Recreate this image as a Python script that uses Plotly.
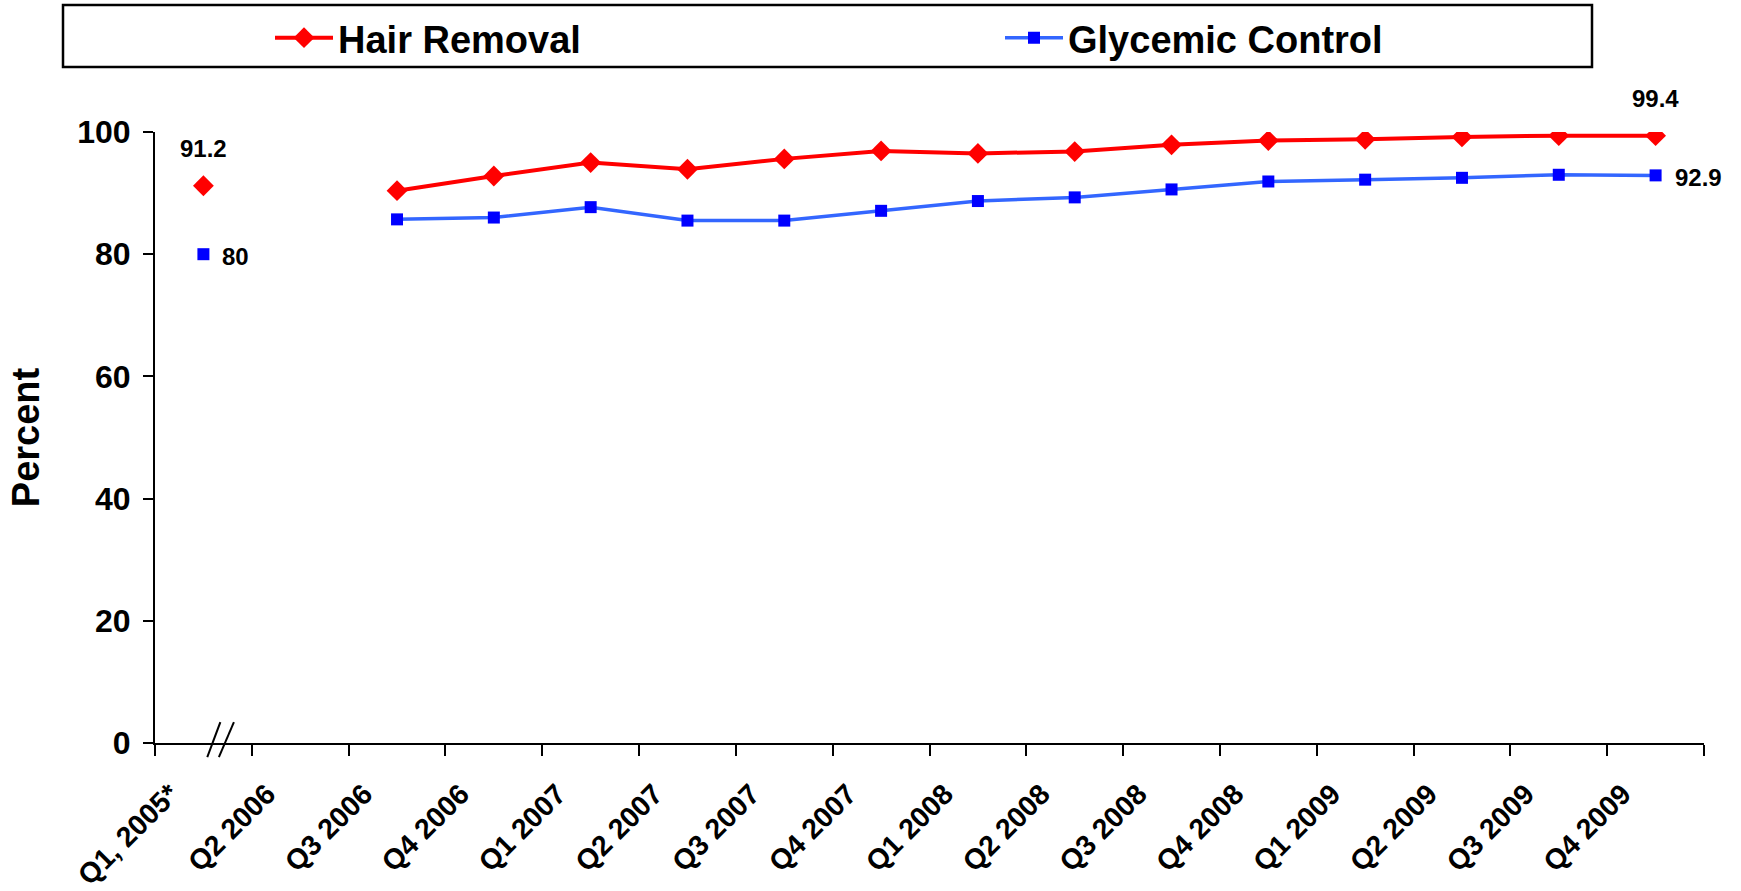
import plotly.graph_objects as go

# ---- data ----
quarters = ["Q1, 2005*", "Q2 2006", "Q3 2006", "Q4 2006", "Q1 2007", "Q2 2007",
            "Q3 2007", "Q4 2007", "Q1 2008", "Q2 2008", "Q3 2008", "Q4 2008",
            "Q1 2009", "Q2 2009", "Q3 2009", "Q4 2009"]
hair_removal = [91.2, None, 90.4, 92.8, 95.0, 93.9, 95.6, 96.9, 96.5, 96.8,
                97.9, 98.6, 98.8, 99.2, 99.4, 99.4]
glycemic_control = [80.0, None, 85.7, 86.0, 87.7, 85.5, 85.5, 87.1, 88.7, 89.3,
                    90.6, 91.9, 92.2, 92.5, 93.0, 92.9]
y_ticks = [0, 20, 40, 60, 80, 100]

FONT = "Liberation Sans, Arial, sans-serif"
W, H = 1741, 891
L, R, T, B = 155, 37, 132, 148
PW, PH = W - L - R, H - T - B
NCAT = len(quarters)

fig = go.Figure()
fig.add_trace(go.Scatter(
    x=quarters, y=hair_removal, name="Hair Removal", mode="lines+markers",
    line=dict(color="#FF0000", width=4), connectgaps=False,
    marker=dict(symbol="diamond", size=16, color="#FF0000"),
))
fig.add_trace(go.Scatter(
    x=quarters, y=glycemic_control, name="Glycemic Control", mode="lines+markers",
    line=dict(color="#3366FF", width=3.5), connectgaps=False,
    marker=dict(symbol="square", size=12, color="#0000FF"),
))

annotations = []
lab_font = dict(family=FONT, size=24, color="black", weight="bold")
# data labels at first and last points
for idx in (0, NCAT - 1):
    v = hair_removal[idx]
    annotations.append(dict(x=quarters[idx], y=v, text=f"{v:g}", showarrow=False,
                            yshift=37, font=lab_font))
    g = glycemic_control[idx]
    annotations.append(dict(x=quarters[idx], y=g, text=f"{g:g}", showarrow=False,
                            xanchor="left", xshift=17, yshift=-2, font=lab_font))

# legend box
shapes = [dict(type="rect", xref="paper", yref="paper",
               x0=(63 - L) / PW, x1=(1592 - L) / PW,
               y0=(H - B - 67) / PH, y1=(H - B - 5) / PH,
               line=dict(color="black", width=2.5), fillcolor="rgba(0,0,0,0)")]
# axis break marks "//" (category-offset positions converted to paper fraction)
for c0, c1 in ((0.04, 0.175), (0.16, 0.315)):
    shapes.append(dict(type="line", xref="paper", yref="paper",
                       x0=(c0 + 0.5) / NCAT, x1=(c1 + 0.5) / NCAT,
                       y0=-0.023, y1=0.034,
                       line=dict(color="black", width=2)))

fig.update_layout(
    width=W, height=H,
    margin=dict(l=L, r=R, t=T, b=B, autoexpand=False),
    paper_bgcolor="white", plot_bgcolor="white",
    font=dict(family=FONT, color="black"),
    showlegend=True,
    legend=dict(orientation="h", xref="container", yref="container",
                x=270 / W, y=1 - 38 / H, xanchor="left", yanchor="middle",
                font=dict(family=FONT, size=38, color="black", weight="bold"),
                itemwidth=58, entrywidth=657, entrywidthmode="pixels",
                bgcolor="rgba(0,0,0,0)", borderwidth=0, traceorder="normal"),
    xaxis=dict(type="category", categoryorder="array", categoryarray=quarters,
               range=[-0.5, NCAT - 0.5], tickson="boundaries",
               ticks="outside", ticklen=11, tickwidth=2, tickcolor="black",
               showline=True, linecolor="black", linewidth=2, showgrid=False,
               zeroline=False, tickangle=-45, ticklabelshift=-33, ticklabelstandoff=21,
               tickfont=dict(family=FONT, size=28.5, color="black", weight="bold")),
    yaxis=dict(range=[0, 100], tickvals=y_ticks, ticks="outside", ticklen=10,
               tickwidth=2, tickcolor="black", showline=True, linecolor="black",
               linewidth=2, showgrid=False, zeroline=False, ticklabelstandoff=6,
               tickfont=dict(family=FONT, size=32, color="black", weight="bold"),
               title=dict(text="Percent", standoff=26,
                          font=dict(family=FONT, size=38, color="black", weight="bold"))),
    annotations=annotations,
    shapes=shapes,
)

fig.write_html("out.html")
